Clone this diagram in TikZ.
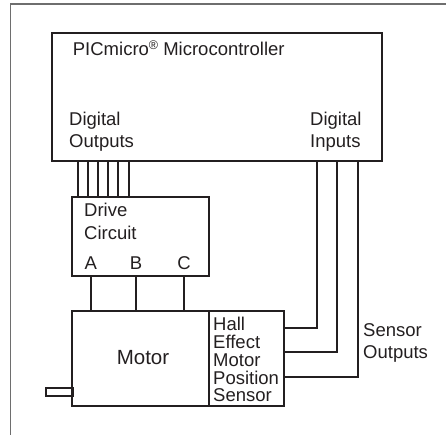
\documentclass[tikz,border=0pt]{standalone}
\usepackage{fontspec}
\setmainfont{Liberation Sans}
\usetikzlibrary{calc}
\definecolor{ink}{HTML}{231F20}
\definecolor{framegray}{HTML}{6E6E6E}
\begin{document}
\begin{tikzpicture}[x=1pt,y=-1pt,
  blk/.style={draw=ink,line width=1.8pt,inner sep=0pt,rectangle},
  wire/.style={draw=ink,line width=1.8pt},
  lbl/.style={anchor=base west,inner sep=0pt,text=ink,font=\fontsize{18.5}{22}\selectfont},
  big/.style={anchor=base,inner sep=0pt,text=ink,font=\fontsize{20.5}{24}\selectfont}]
\useasboundingbox (0,0) rectangle (446,435);
% frame
\draw[framegray,line width=1.4pt] (10.7,435) -- (10.7,4) -- (446,4);
% blocks
\node[blk,minimum width=329.7pt,minimum height=128.3pt] (micro) at (217.15,96.85) {};
\node[blk,minimum width=137pt,minimum height=79pt] (drive) at (140.5,236.5) {};
\node[blk,minimum width=137pt,minimum height=95pt] (motor) at (140.5,358.5) {};
\node[blk,minimum width=75pt,minimum height=95pt] (sensor) at (246.5,358.5) {};
\node[blk,line width=1.6pt,minimum width=27.3pt,minimum height=8pt] (shaft) at (59.35,392) {};
% labels
\node[lbl] (t1) at (72.7,56) {PICmicro\raisebox{6pt}{\fontsize{12.5}{12.5}\selectfont\textregistered} Microcontroller};
\node[lbl] (t2) at (69,126) {Digital};
\node[lbl] (t3) at (69,148) {Outputs};
\node[lbl] (t4) at (310,126) {Digital};
\node[lbl] (t5) at (310,148) {Inputs};
\node[lbl] (t6) at (84,216.7) {Drive};
\node[lbl] (t7) at (84,239.3) {Circuit};
\node[lbl,anchor=base] (tA) at (90.7,269) {A};
\node[lbl,anchor=base] (tB) at (136,269) {B};
\node[lbl,anchor=base] (tC) at (184,269) {C};
\node[big] (tm) at (143,364.3) {Motor};
\node[lbl] (s1) at (213,330.7) {Hall};
\node[lbl] (s2) at (213,348.5) {Effect};
\node[lbl] (s3) at (213,366.3) {Motor};
\node[lbl] (s4) at (213,384) {Position};
\node[lbl] (s5) at (213,401.8) {Sensor};
\node[lbl] (o1) at (363,336.7) {Sensor};
\node[lbl] (o2) at (363,358.7) {Outputs};
% output bus
\foreach \x in {77.7,87.7,97.7,107.7,118.3,128.7}
  \draw[wire] (\x,0 |- micro.south) -- (\x,0 |- drive.north);
% phases
\foreach \x in {90.7,135.7,183.7}
  \draw[wire] (\x,0 |- drive.south) -- (\x,0 |- motor.north);
% sensor outputs
\draw[wire] (317.3,0 |- micro.south) |- (sensor.east |- 0,328.3);
\draw[wire] (336.7,0 |- micro.south) |- (sensor.east |- 0,352.3);
\draw[wire] (357.7,0 |- micro.south) |- (sensor.east |- 0,376.7);
\end{tikzpicture}
\end{document}
